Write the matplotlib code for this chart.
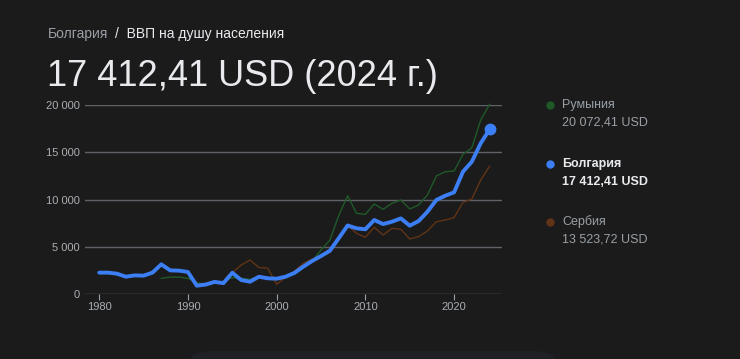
import matplotlib.pyplot as plt
from matplotlib.lines import Line2D
from matplotlib.patches import FancyBboxPatch

plt.rcParams['font.family'] = ['Liberation Sans', 'DejaVu Sans']

# data (USD per capita)
years_bg = list(range(1980, 2025))
bulgaria = [2260, 2260, 2150, 1830, 1970, 1940, 2260, 3140, 2500, 2470,
            2330, 880, 1000, 1280, 1150, 2250, 1480, 1300, 1830, 1660,
            1620, 1830, 2230, 2890, 3490, 4020, 4580, 5900, 7250, 6950,
            6850, 7830, 7400, 7650, 8000, 7230, 7720, 8710, 9950, 10400,
            10760, 12940, 14000, 15950, 17412.41]

years_ro = list(range(1987, 2025))
romania = [1660, 1790, 1790, 1660, 1200, 1040, 1160, 1320, 1730, 1660,
           1560, 1830, 1600, 1650, 1830, 2100, 2800, 3500, 4650, 5700,
           8300, 10400, 8540, 8430, 9520, 8960, 9600, 9950, 9000, 9420,
           10480, 12490, 12940, 13010, 14780, 15480, 18410, 20072.41]

years_rs = list(range(1995, 2025))
serbia = [2250, 3070, 3600, 2800, 2730, 1030, 1760, 2400, 3250, 3700,
          3900, 4400, 5950, 7250, 6420, 6000, 7060, 6240, 6950, 6850,
          5820, 6070, 6670, 7650, 7830, 8080, 9700, 10050, 12060, 13523.72]

xticks = [1980, 1990, 2000, 2010, 2020]
yticks = [0, 5000, 10000, 15000, 20000]

bg = '#1b1b1b'
grey = '#9aa0a6'
white = '#e8eaed'
blue = '#3c7ef3'
green = '#1f5a28'
brown = '#613417'

fig = plt.figure(figsize=(7.4, 3.59), dpi=100)
fig.patch.set_facecolor(bg)

ax = fig.add_axes([85 / 740, 65 / 359, 417 / 740, 189 / 359])
ax.set_facecolor(bg)

ax.plot(years_ro, romania, color=green, lw=1.0, zorder=3)
ax.plot(years_rs, serbia, color=brown, lw=1.0, zorder=3)
ax.plot(years_bg, bulgaria, color=blue, lw=2.8, zorder=4,
        solid_joinstyle='round', solid_capstyle='round')
ax.plot(years_bg[-1], bulgaria[-1], 'o', color=blue, ms=7.5, zorder=5)

ax.set_xlim(1978.4, 2025.4)
ax.set_ylim(0, 20000)
for a in ax.lines:
    a.set_clip_on(False)

ax.set_yticks(yticks)
ax.set_yticklabels([f'{v:,}'.replace(',', ' ') for v in yticks])
ax.set_xticks(xticks)
ax.grid(axis='y', color='#5f6368', lw=1)
ax.tick_params(axis='y', length=0, pad=4, labelcolor='#aaaeb3', labelsize=8)
ax.tick_params(axis='x', length=4, color=grey, labelcolor='#aaaeb3', labelsize=8, pad=2)
for s in ax.spines.values():
    s.set_visible(False)

# header
fig.text(48 / 740, 1 - 34 / 359, 'Болгария', color=grey, fontsize=10, va='center')
fig.text(115 / 740, 1 - 34 / 359, '/  ВВП на душу населения', color=white,
         fontsize=10, va='center')
fig.text(47 / 740, 1 - 76 / 359, '17 412,41 USD (2024 г.)', color=white,
         fontsize=26, va='center')

# legend
leg = [('Румыния', '20 072,41 USD', green, grey, 105),
       ('Болгария', '17 412,41 USD', blue, white, 164),
       ('Сербия', '13 523,72 USD', brown, grey, 222)]
for name, val, c, tc, y in leg:
    fig.add_artist(Line2D([550 / 740], [1 - y / 359], marker='o', ms=5,
                          color=c, transform=fig.transFigure))
    fw = 'bold' if tc == white else 'normal'
    fig.text(562 / 740, 1 - y / 359, name, color=tc, fontsize=9,
             va='center', fontweight=fw)
    fig.text(562 / 740, 1 - (y + 18) / 359, val, color=tc, fontsize=9,
             va='center', fontweight=fw)

# bottom card
fig.patches.append(FancyBboxPatch((190 / 740, -0.05), 365 / 740, 0.07,
                                  boxstyle='round,pad=0,rounding_size=0.03',
                                  transform=fig.transFigure, color='#202124',
                                  figure=fig))

fig.savefig('out.png', dpi=100, facecolor=bg)
